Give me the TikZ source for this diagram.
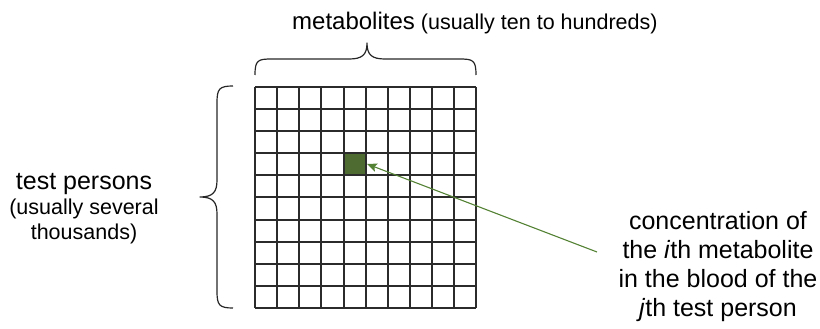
\documentclass[tikz,border=0pt]{standalone}
\usepackage{fontspec}
\setmainfont{Liberation Sans}
\usetikzlibrary{arrows.meta}
\definecolor{cellgreen}{HTML}{4E6B32}
\definecolor{arrowgreen}{HTML}{548235}
\definecolor{gridline}{HTML}{2B2B2B}
\tikzset{
  bigtxt/.style={font=\fontsize{25}{29}\selectfont, inner sep=0pt, anchor=base},
  smalltxt/.style={font=\fontsize{21.5}{25}\selectfont, inner sep=0pt, anchor=base},
  bracepath/.style={line width=1.2pt, black!85, line join=round},
  gridstyle/.style={line width=1.8pt, gridline},
  pointer/.style={line width=1.1pt, arrowgreen, -{Stealth[length=10pt,width=8.5pt,inset=2pt]}}
}
\begin{document}
\begin{tikzpicture}[x=1pt,y=-1pt]
\useasboundingbox (0,0) rectangle (820,329);
\def\xs{{255,277,299,321,344,366,388,410,432,454,476}}
\def\ys{{87,109,131,153,175,197,220,242,264,286,308}}
% highlighted cell (column 5, row 4)
\fill[cellgreen] (344,153) rectangle (366,175);
% grid
\foreach \i in {0,...,10} {
  \pgfmathsetmacro{\gx}{\xs[\i]}
  \pgfmathsetmacro{\gy}{\ys[\i]}
  \draw[gridstyle] (\gx,87) -- (\gx,308);
  \draw[gridstyle] (255,\gy) -- (476,\gy);
}
% top brace
\draw[bracepath] (255,75) .. controls (255,60) and (258,59) .. (272,59) -- (349,59)
  .. controls (362,59) and (367,55) .. (367,43)
  .. controls (367,55) and (372,59) .. (385,59) -- (459,59)
  .. controls (473,59) and (476,60) .. (476,75);
% left brace
\draw[bracepath] (233,86) .. controls (219,86) and (217,89) .. (217,103) -- (217,180)
  .. controls (217,192) and (213,197) .. (200,197)
  .. controls (213,197) and (217,202) .. (217,214) -- (217,291)
  .. controls (217,305) and (219,308) .. (233,308);
% top label
\node[bigtxt, anchor=base west, font=\fontsize{24}{28}\selectfont] (met) at (292,30) {metabolites\fontsize{21.5}{25}\selectfont\ (usually ten to hundreds)};
% left labels
\node[bigtxt] (tp1) at (84,189) {test persons};
\node[smalltxt] (tp2) at (84,214) {(usually several};
\node[smalltxt] (tp3) at (84,239) {thousands)};
% right labels
\node[bigtxt] (c1) at (718,229) {concentration of};
\node[bigtxt] (c2) at (718,258) {the \textit{i}th metabolite};
\node[bigtxt] (c3) at (718,287) {in the blood of the};
\node[bigtxt] (c4) at (718,316) {\textit{j}th test person};
% pointer
\coordinate (pstart) at (597,252);
\coordinate (ptip) at (367,164);
\draw[pointer] (pstart) -- (ptip);
\end{tikzpicture}
\end{document}
